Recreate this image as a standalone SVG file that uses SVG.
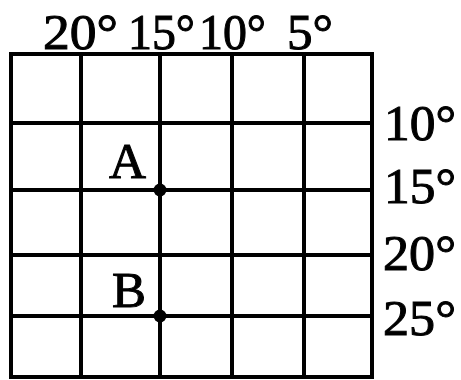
<svg xmlns="http://www.w3.org/2000/svg" width="461" height="380" viewBox="0 0 461 380">
<style>
.t{font-family:"Liberation Serif","DejaVu Serif",serif;font-size:50px;fill:#000;stroke:#000;stroke-width:1px}
.g{stroke:#000;stroke-width:4;fill:none;stroke-linecap:square}
</style>
<rect width="461" height="380" fill="#fff"/>
<g id="grid" class="g">
<line x1="11" y1="54" x2="372" y2="54"/>
<line x1="11" y1="123" x2="372" y2="123"/>
<line x1="11" y1="190" x2="372" y2="190"/>
<line x1="11" y1="255" x2="372" y2="255"/>
<line x1="11" y1="316" x2="372" y2="316"/>
<line x1="11" y1="377" x2="372" y2="377"/>
<line x1="11" y1="54" x2="11" y2="377"/>
<line x1="81" y1="54" x2="81" y2="377"/>
<line x1="160" y1="54" x2="160" y2="377"/>
<line x1="232" y1="54" x2="232" y2="377"/>
<line x1="304" y1="54" x2="304" y2="377"/>
<line x1="372" y1="54" x2="372" y2="377"/>
</g>
<g id="pointA"><circle cx="160" cy="190" r="6.5"/><text class="t" x="109" y="178" textLength="37" lengthAdjust="spacingAndGlyphs">A</text></g>
<g id="pointB"><circle cx="160" cy="316" r="6.5"/><text class="t" x="112" y="307" textLength="34" lengthAdjust="spacingAndGlyphs">B</text></g>
<g id="top-labels">
<text class="t" x="43" y="49" textLength="75" lengthAdjust="spacingAndGlyphs">20°</text>
<text class="t" x="128" y="49" textLength="67" lengthAdjust="spacingAndGlyphs">15°</text>
<text class="t" x="199" y="49" textLength="67" lengthAdjust="spacingAndGlyphs">10°</text>
<text class="t" x="287" y="49" textLength="46" lengthAdjust="spacingAndGlyphs">5°</text>
</g>
<g id="right-labels">
<text class="t" x="384" y="140" textLength="72" lengthAdjust="spacingAndGlyphs">10°</text>
<text class="t" x="384" y="203" textLength="72" lengthAdjust="spacingAndGlyphs">15°</text>
<text class="t" x="383" y="270" textLength="73" lengthAdjust="spacingAndGlyphs">20°</text>
<text class="t" x="383" y="335" textLength="73" lengthAdjust="spacingAndGlyphs">25°</text>
</g>
</svg>
